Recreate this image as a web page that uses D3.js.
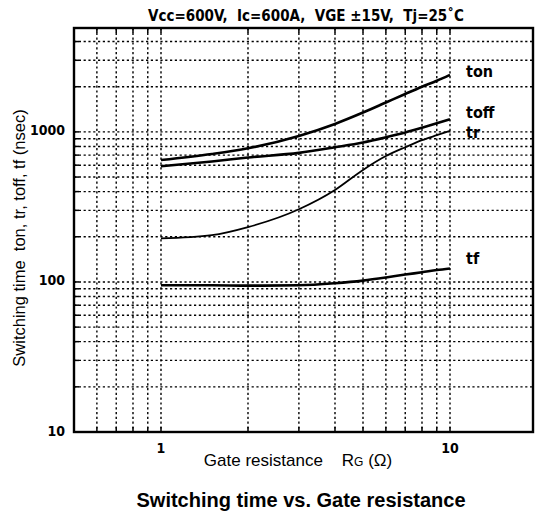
<!DOCTYPE html>
<html><head><meta charset="utf-8">
<script src="https://cdn.jsdelivr.net/npm/d3@7/dist/d3.min.js"></script>
<style>body{margin:0;background:#fff}svg{display:block}</style>
</head><body><svg id="c" width="536" height="513"></svg>
<script>
// ---- data ----
const rg   = [1, 1.5, 2, 3, 4, 5, 6, 7, 8, 9, 10];
const ton  = [650, 713, 778, 940, 1130, 1345, 1570, 1790, 2000, 2190, 2400];
const toff = [590, 635, 675, 725, 790, 850, 920, 990, 1065, 1140, 1215];
const tr   = [195, 205, 232, 305, 410, 558, 690, 790, 880, 950, 1015];
const tf   = [95, 95, 94.5, 95, 98, 102, 107, 112, 116, 120, 123];
const seriesNames = ["ton", "toff", "tr", "tf"];
const xGrid = [0.6, 0.7, 0.8, 0.9, 1, 2, 3, 4, 5, 6, 7, 8, 9, 10];
const yGrid = [20, 30, 40, 50, 60, 70, 80, 90, 100, 200, 300, 400, 500, 600, 700, 800, 900, 1000, 2000, 3000, 4000];
const xTickLabels = [1, 10];
const yTickLabels = [10, 100, 1000];
const conditionText = "Vcc=600V,  Ic=600A,  VGE \u00b115V,  Tj=25\u02daC";
const xTitle = "Gate resistance    R";
const yTitle = "Switching time  ton, tr, toff, tf (nsec)";
const chartTitle = "Switching time vs. Gate resistance";

// ---- layout ----
const L = 74, R = 533, T = 28, B = 432;
const x = d3.scaleLog().domain([0.5, 20]).range([L, 537]);
const y = d3.scaleLog().domain([10, 5000]).range([B, 27]);
const svg = d3.select("#c");
const narrow = "'Liberation Sans Narrow','Arial Narrow','DejaVu Sans Condensed',sans-serif";
const sans = "'Liberation Sans',Arial,Helvetica,sans-serif";

// grid
const g = svg.append("g");
g.selectAll("line.h").data(yGrid).join("line")
  .attr("x1", L).attr("x2", R).attr("y1", d => y(d)).attr("y2", d => y(d))
  .attr("stroke", "#000").attr("stroke-width", 1.4).attr("stroke-dasharray", "2.2,2.6");
g.selectAll("line.v").data(xGrid).join("line")
  .attr("y1", T).attr("y2", B).attr("x1", d => x(d)).attr("x2", d => x(d))
  .attr("stroke", "#000").attr("stroke-width", 1.4).attr("stroke-dasharray", "2.2,2.6");

// inward ticks
g.selectAll("line.yt").data(yGrid).join("line")
  .attr("x1", L).attr("x2", L + 5).attr("y1", d => y(d)).attr("y2", d => y(d))
  .attr("stroke", "#000").attr("stroke-width", 1.5);
g.selectAll("line.xt").data(xGrid).join("line")
  .attr("y1", B).attr("y2", B - 5).attr("x1", d => x(d)).attr("x2", d => x(d))
  .attr("stroke", "#000").attr("stroke-width", 1.5);
g.selectAll("line.xt2").data(xGrid).join("line")
  .attr("y1", T).attr("y2", T + 5).attr("x1", d => x(d)).attr("x2", d => x(d))
  .attr("stroke", "#000").attr("stroke-width", 1.5);

// frame
svg.append("rect").attr("x", L).attr("y", T).attr("width", R - L).attr("height", B - T)
  .attr("fill", "none").attr("stroke", "#000").attr("stroke-width", 2.4);

// curves
const line = d3.line().x(d => x(d[0])).y(d => y(d[1])).curve(d3.curveMonotoneX);
const all = [ton, toff, tr, tf];
const widths = [2.6, 2.6, 1.8, 2.6];
all.forEach((s, i) => {
  svg.append("path").datum(rg.map((r, j) => [r, s[j]]))
    .attr("d", line).attr("fill", "none").attr("stroke", "#000")
    .attr("stroke-width", widths[i]).attr("stroke-linejoin", "round");
});

// series labels
const labelY = [77, 118, 138, 264];
seriesNames.forEach((n, i) => {
  svg.append("text").attr("x", 466).attr("y", labelY[i]).text(n)
    .attr("font-family", narrow).attr("font-weight", "bold").attr("font-size", 16);
});

// tick labels
svg.selectAll("text.yl").data(yTickLabels).join("text")
  .attr("x", 65).attr("y", d => y(d) + 3.5).attr("text-anchor", "end")
  .attr("font-family", narrow).attr("font-weight", "bold").attr("font-size", 14).text(d => d);
svg.selectAll("text.xl").data(xTickLabels).join("text")
  .attr("x", d => x(d)).attr("y", 453).attr("text-anchor", "middle")
  .attr("font-family", narrow).attr("font-weight", "bold").attr("font-size", 14).text(d => d);

// condition text
svg.append("text").attr("x", 306).attr("y", 21).attr("text-anchor", "middle")
  .attr("font-family", narrow).attr("font-weight", "bold").attr("font-size", 15)
  .style("white-space", "pre").text(conditionText);

// x title
const xt = svg.append("text").attr("x", 298).attr("y", 466).attr("text-anchor", "middle")
  .attr("font-family", sans).attr("font-size", 17).style("white-space", "pre");
xt.append("tspan").text(xTitle);
xt.append("tspan").attr("font-size", 12).text("G");
xt.append("tspan").text(" (\u03a9)");

// y title
svg.append("text").attr("transform", "translate(25,238) rotate(-90)").attr("text-anchor", "middle")
  .attr("font-family", sans).attr("font-size", 16.5).style("white-space", "pre").text(yTitle);

// chart title
svg.append("text").attr("x", 301).attr("y", 507).attr("text-anchor", "middle")
  .attr("font-family", sans).attr("font-weight", "bold").attr("font-size", 20).text(chartTitle);
</script></body></html>
